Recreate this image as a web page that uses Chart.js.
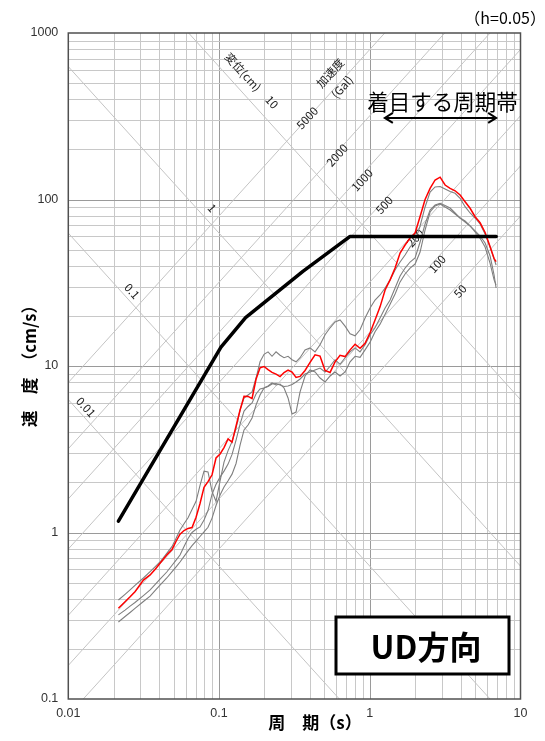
<!DOCTYPE html>
<html><head><meta charset="utf-8">
<script src="https://cdn.jsdelivr.net/npm/chart.js@4.4.1/dist/chart.umd.min.js"></script>
<style>html,body{margin:0;padding:0;background:#fff;}</style>
</head><body>
<canvas id="c" width="545" height="741"></canvas>
<script>
// ---- data (period s, velocity cm/s) ----
const periods = [0.0215,0.0238,0.0257,0.0277,0.0315,0.0349,0.0376,0.0406,0.0450,0.0488,0.0519,0.0551,0.0586,0.0623,0.0662,0.0704,0.0748,0.0795,0.0845,0.0899,0.0955,0.1016,0.1079,0.1148,0.1220,0.1297,0.1379,0.1465,0.1558,0.1656,0.1760,0.1871,0.1989,0.2114,0.2247,0.2389,0.2540,0.2700,0.2870,0.3051,0.3243,0.3448,
0.3721,0.4017,0.4335,0.4679,0.5052,0.5452,0.5884,0.6351,0.6856,0.7402,
0.7989,0.8622,0.9307,1.005,1.084,1.170,1.264,1.364,1.472,1.589,
1.715,1.851,1.998,2.157,2.328,2.513,2.713,2.928,3.160,3.412,
3.683,3.975,4.289,4.630,4.998,5.394,5.823,6.285,6.680,6.888];

const redUD = [0.351,0.384,0.411,0.441,0.518,0.556,0.600,0.653,0.733,0.791,0.886,0.977,1.028,1.058,1.071,1.236,1.493,1.870,2.022,2.222,2.802,2.965,3.237,3.645,3.488,4.359,5.44,6.58,6.57,6.38,8.32,9.76,9.93,9.50,9.16,8.93,8.64,9.14,9.46,9.20,8.53,8.66,
9.40,10.50,11.68,11.46,9.40,9.15,10.59,11.6,11.39,12.5,
13.51,12.78,13.70,15.83,18.9,22.66,28.6,32.9,38.76,47.69,
53.3,58.70,62.91,79.05,100.0,116.7,131.0,136.1,122.2,116.7,
112.8,106.4,97.0,88.55,78.83,72.47,63.38,52.07,44.20,42.30];

const grayA = [0.393,0.425,0.452,0.481,0.533,0.582,0.622,0.665,0.749,0.825,0.925,1.035,1.129,1.227,1.374,1.540,1.917,2.334,2.309,1.758,1.540,2.042,2.648,3.104,3.512,4.241,5.44,6.43,6.70,6.98,8.47,10.60,11.76,12.16,11.44,12.16,11.6,11.21,11.44,10.9,10.60,11.21,
12.5,12.85,12.16,13.4,15.4,16.96,18.39,18.9,17.36,15.61,
15.19,16.5,19.43,22.31,24.9,26.7,29.40,32.9,37.7,42.12,
46.4,51.85,56.32,69.34,90.18,110.9,118.9,119.7,115.6,111.7,
108.9,101.7,90.55,82.96,77.41,71.28,62.05,51.85,43.90,40.4];

const grayB = [0.320,0.342,0.361,0.380,0.418,0.452,0.487,0.524,0.579,0.636,0.683,0.733,0.825,0.921,1.000,1.045,1.080,1.188,1.355,1.699,1.946,2.150,2.338,2.575,2.944,3.59,4.481,5.365,5.711,5.993,6.793,7.280,7.381,7.533,7.797,7.851,7.69,7.533,7.585,7.744,8.016,8.355,
8.953,9.202,9.46,9.725,9.202,9.962,10.9,10.24,11.21,12.16,
12.85,12.16,13.4,15.4,16.96,19.43,22.31,24.9,29.40,34.72,
38.76,42.12,44.51,55.54,71.28,86.5,92.7,94.90,92.06,88.92,
82.96,77.41,73.25,69.34,63.81,58.45,51.85,41.36,32.9,30.7];

const grayC = [0.290,0.313,0.331,0.350,0.385,0.415,0.448,0.483,0.533,0.582,0.622,0.665,0.719,0.776,0.833,0.888,0.946,1.008,1.075,1.220,1.452,1.68,1.877,2.047,2.241,2.597,3.35,4.13,4.42,4.873,5.83,6.70,7.381,7.585,7.905,7.69,7.797,7.381,6.425,5.151,5.292,6.984,
8.709,9.46,9.202,8.471,8.016,8.709,9.202,8.709,9.202,10.60,
11.44,11.28,12.5,13.91,16.05,17.84,20.48,23.52,27.07,32.00,
35.69,38.76,40.96,48.35,65.6,84.14,91.43,93.99,90.18,86.5,
81.82,77.41,74.27,69.34,64.70,60.36,54.79,45.76,35.2,29.40];

const designT = [0.0215, 0.103, 0.15, 0.36, 0.74, 6.9];
const designV = [1.17, 13, 19.5, 37, 60, 60];

const dispLines = [0.01, 0.1, 1, 10];               // displacement (cm)
const accLines = [50, 100, 200, 500, 1000, 2000, 5000]; // acceleration (Gal)

const xTickLabels = [0.01, 0.1, 1, 10];
const yTickLabels = [0.1, 1, 10, 100, 1000];

// label anchors (period, velocity) and orientation: 'd' along displacement, 'a' along acceleration
const diagLabels = [
  {t:'変位(cm)', T:0.1443, v:583, o:'d'},
  {t:'10', T:0.2247, v:385, o:'d'},
  {t:'1', T:0.0899, v:89, o:'d'},
  {t:'0.1', T:0.0265, v:28.2, o:'d'},
  {t:'0.01', T:0.0131, v:5.67, o:'d'},
  {t:'加速度', T:0.545, v:575, o:'a'},
  {t:'(Gal)', T:0.655, v:474, o:'a'},
  {t:'5000', T:0.384, v:309, o:'a'},
  {t:'2000', T:0.607, v:185, o:'a'},
  {t:'1000', T:0.889, v:131, o:'a'},
  {t:'500', T:1.244, v:92.7, o:'a'},
  {t:'200', T:2.0, v:58.7, o:'a'},
  {t:'100', T:2.797, v:41.0, o:'a'},
  {t:'50', T:3.97, v:28.2, o:'a'}
];
const bandT = [1.24, 7.0];   // 着目する周期帯 arrow span
const bandV = 309;

const pts = (xs, ys) => xs.map((x, i) => ({x: x, y: ys[i]}));

const decorPlugin = {
  id: 'decor',
  beforeDraw(chart) {
    const c = chart.ctx;
    c.save(); c.fillStyle = '#fff'; c.fillRect(0, 0, chart.width, chart.height); c.restore();
  },
  beforeDatasetsDraw(chart) {
    const c = chart.ctx, a = chart.chartArea;
    const xs = chart.scales.x, ys = chart.scales.y;
    c.save();
    c.beginPath(); c.rect(a.left, a.top, a.right - a.left, a.bottom - a.top); c.clip();
    // grid
    c.lineWidth = 1;
    for (let e = -2; e <= 0; e++) for (let k = 1; k <= 9; k++) {
      const px = Math.round(xs.getPixelForValue(k * Math.pow(10, e))) + 0.5;
      c.strokeStyle = k === 1 ? '#9a9a9a' : '#c8c8c8';
      c.beginPath(); c.moveTo(px, a.top); c.lineTo(px, a.bottom); c.stroke();
    }
    for (let e = -1; e <= 2; e++) for (let k = 1; k <= 9; k++) {
      const py = Math.round(ys.getPixelForValue(k * Math.pow(10, e))) + 0.5;
      c.strokeStyle = k === 1 ? '#9a9a9a' : '#c8c8c8';
      c.beginPath(); c.moveTo(a.left, py); c.lineTo(a.right, py); c.stroke();
    }
    // diagonals
    c.strokeStyle = '#c4c4c4'; c.lineWidth = 1;
    const T0 = 0.01, T1 = 10;
    dispLines.forEach(D => {
      c.beginPath();
      c.moveTo(xs.getPixelForValue(T0), ys.getPixelForValue(2 * Math.PI * D / T0));
      c.lineTo(xs.getPixelForValue(T1), ys.getPixelForValue(2 * Math.PI * D / T1));
      c.stroke();
    });
    accLines.forEach(A => {
      c.beginPath();
      c.moveTo(xs.getPixelForValue(T0), ys.getPixelForValue(A * T0 / (2 * Math.PI)));
      c.lineTo(xs.getPixelForValue(T1), ys.getPixelForValue(A * T1 / (2 * Math.PI)));
      c.stroke();
    });
    c.restore();
    // diagonal labels
    c.save();
    const ang = Math.atan((ys.getPixelForValue(1) - ys.getPixelForValue(10)) / (xs.getPixelForValue(10) - xs.getPixelForValue(1)));
    c.fillStyle = '#222';
    c.font = '11.5px "Noto Sans CJK JP", "DejaVu Sans", sans-serif';
    c.textAlign = 'center'; c.textBaseline = 'middle';
    diagLabels.forEach(l => {
      c.save();
      c.translate(xs.getPixelForValue(l.T), ys.getPixelForValue(l.v));
      c.rotate(l.o === 'd' ? ang : -ang);
      c.fillText(l.t, 0, 0);
      c.restore();
    });
    c.restore();
  },
  afterDatasetsDraw(chart) {
    const c = chart.ctx, a = chart.chartArea;
    const xs = chart.scales.x, ys = chart.scales.y;
    c.save();
    // frame
    c.strokeStyle = '#505050'; c.lineWidth = 1.5;
    c.strokeRect(a.left, a.top, a.right - a.left, a.bottom - a.top);
    // tick labels
    c.fillStyle = '#333';
    c.font = '12.5px "Liberation Sans", Arial, sans-serif';
    c.textAlign = 'right'; c.textBaseline = 'middle';
    yTickLabels.forEach(v => c.fillText(String(v), a.left - 10, ys.getPixelForValue(v)));
    c.textAlign = 'center'; c.textBaseline = 'top';
    xTickLabels.forEach(t => c.fillText(String(t), xs.getPixelForValue(t), a.bottom + 8));
    // axis titles
    c.fillStyle = '#000';
    c.font = 'bold 17px "Noto Sans CJK JP", sans-serif';
    c.textAlign = 'center'; c.textBaseline = 'middle';
    c.fillText('周　期（s）', 315, 723);
    c.save();
    c.translate(30, 362); c.rotate(-Math.PI / 2);
    c.font = 'bold 16.5px "Noto Sans CJK JP", sans-serif';
    c.fillText('速　度　（cm/s）', 0, 0);
    c.restore();
    // damping note
    c.font = '16px "Noto Sans CJK JP", sans-serif';
    c.textAlign = 'right';
    c.fillText('（h=0.05）', 546, 18);
    // period band annotation
    const xl = xs.getPixelForValue(bandT[0]), xr = xs.getPixelForValue(bandT[1]);
    const yb = ys.getPixelForValue(bandV);
    c.font = '21.5px "Noto Sans CJK JP", sans-serif';
    c.textAlign = 'center'; c.textBaseline = 'middle';
    c.fillText('着目する周期帯', (xl + xr) / 2 + 2, yb - 16);
    c.strokeStyle = '#000'; c.lineWidth = 2;
    c.beginPath(); c.moveTo(xl + 3, yb); c.lineTo(xr - 3, yb); c.stroke();
    c.beginPath();
    c.moveTo(xl + 9, yb - 5); c.lineTo(xl + 1, yb); c.lineTo(xl + 9, yb + 5);
    c.moveTo(xr - 9, yb - 5); c.lineTo(xr - 1, yb); c.lineTo(xr - 9, yb + 5);
    c.stroke();
    // direction box
    c.fillStyle = '#fff';
    c.fillRect(336, 617, 173, 57);
    c.lineWidth = 3; c.strokeStyle = '#000';
    c.strokeRect(336, 617, 173, 57);
    c.fillStyle = '#000';
    c.font = 'bold 32px "Noto Sans CJK JP", sans-serif';
    c.fillText('UD方向', 426, 647);
    c.restore();
  }
};

new Chart(document.getElementById('c').getContext('2d'), {
  type: 'line',
  data: {
    datasets: [
      {label: 'design', data: pts(designT, designV), borderColor: '#000', borderWidth: 3.5, pointRadius: 0, borderJoinStyle: 'round', borderCapStyle: 'round'},
      {label: 'UD', data: pts(periods, redUD), borderColor: '#ff0000', borderWidth: 1.5, pointRadius: 0},
      {label: 'g1', data: pts(periods, grayA), borderColor: '#7f7f7f', borderWidth: 1.1, pointRadius: 0},
      {label: 'g2', data: pts(periods, grayB), borderColor: '#7f7f7f', borderWidth: 1.1, pointRadius: 0},
      {label: 'g3', data: pts(periods, grayC), borderColor: '#7f7f7f', borderWidth: 1.1, pointRadius: 0}
    ]
  },
  options: {
    responsive: false, animation: false, devicePixelRatio: 1,
    layout: {padding: {left: 68.3, right: 24.5, top: 33, bottom: 42}},
    plugins: {legend: {display: false}, tooltip: {enabled: false}},
    elements: {line: {tension: 0, fill: false}},
    scales: {
      x: {type: 'logarithmic', min: 0.01, max: 10, display: false},
      y: {type: 'logarithmic', min: 0.1, max: 1000, display: false}
    }
  },
  plugins: [decorPlugin]
});
</script>
</body></html>
